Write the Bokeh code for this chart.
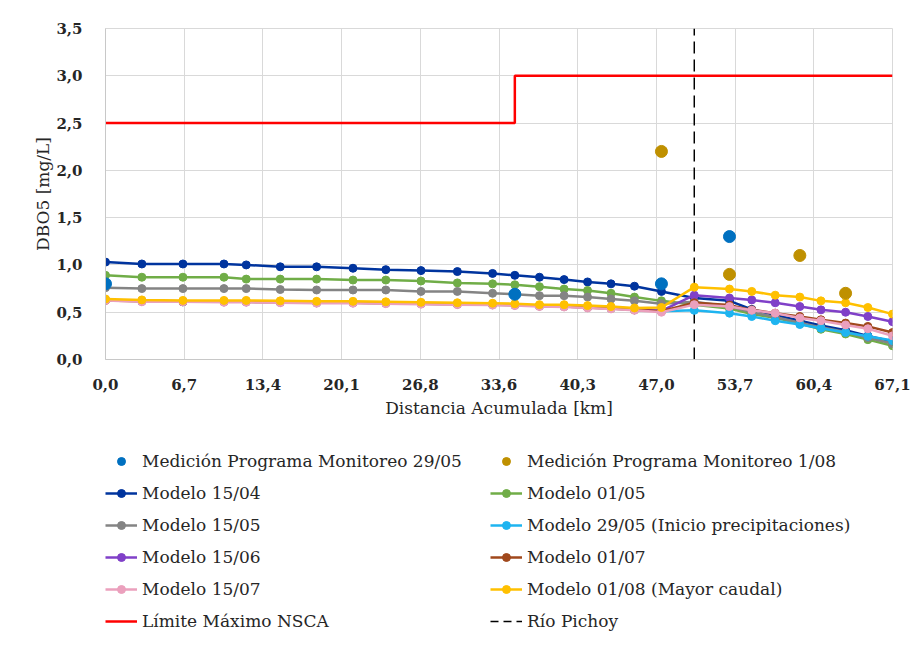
from bokeh.plotting import figure
from bokeh.layouts import column
from bokeh.models import Legend, LegendItem, FixedTicker, Range1d
from bokeh.embed import file_html
from bokeh.resources import INLINE

# ---------------- data ----------------
dist_km = [0.0, 3.1, 6.6, 10.1, 12.0, 14.9, 18.0, 21.1, 23.9, 26.9, 30.0, 33.0, 34.9, 37.0,
           39.1, 41.1, 43.1, 45.1, 47.4, 50.2, 53.2, 55.1, 57.1, 59.2, 61.0, 63.1, 65.0, 67.1]

modelo_1504 = [1.03, 1.01, 1.01, 1.01, 1.00, 0.98, 0.98, 0.965, 0.95, 0.94, 0.93, 0.91, 0.89, 0.87,
               0.845, 0.82, 0.80, 0.775, 0.72, 0.65, 0.62, 0.53, 0.47, 0.41, 0.36, 0.31, 0.25, 0.19]
modelo_0105 = [0.89, 0.87, 0.87, 0.87, 0.85, 0.85, 0.85, 0.84, 0.84, 0.83, 0.81, 0.80, 0.79, 0.77,
               0.745, 0.73, 0.70, 0.66, 0.62, 0.58, 0.54, 0.48, 0.44, 0.38, 0.32, 0.27, 0.21, 0.145]
modelo_1505 = [0.76, 0.75, 0.75, 0.75, 0.75, 0.74, 0.735, 0.735, 0.735, 0.72, 0.72, 0.70, 0.69, 0.675,
               0.675, 0.66, 0.64, 0.62, 0.59, 0.61, 0.56, 0.50, 0.45, 0.39, 0.34, 0.29, 0.23, 0.17]
modelo_2905 = [0.63, 0.615, 0.61, 0.61, 0.61, 0.605, 0.60, 0.60, 0.595, 0.59, 0.585, 0.58, 0.575, 0.565,
               0.56, 0.55, 0.54, 0.525, 0.51, 0.52, 0.49, 0.455, 0.41, 0.37, 0.33, 0.285, 0.245, 0.20]
modelo_1506 = [0.63, 0.62, 0.615, 0.615, 0.615, 0.61, 0.605, 0.605, 0.60, 0.595, 0.59, 0.585, 0.58, 0.57,
               0.565, 0.555, 0.545, 0.53, 0.515, 0.68, 0.65, 0.63, 0.60, 0.56, 0.525, 0.50, 0.455, 0.40]
modelo_0107 = [0.625, 0.615, 0.61, 0.61, 0.61, 0.605, 0.60, 0.60, 0.595, 0.59, 0.585, 0.58, 0.575, 0.565,
               0.56, 0.55, 0.54, 0.525, 0.51, 0.60, 0.575, 0.525, 0.49, 0.455, 0.42, 0.385, 0.35, 0.285]
modelo_1507 = [0.625, 0.61, 0.61, 0.605, 0.605, 0.60, 0.595, 0.595, 0.59, 0.585, 0.58, 0.575, 0.57, 0.56,
               0.555, 0.545, 0.535, 0.52, 0.50, 0.58, 0.56, 0.52, 0.49, 0.44, 0.41, 0.365, 0.325, 0.25]
modelo_0108 = [0.64, 0.63, 0.625, 0.625, 0.625, 0.62, 0.615, 0.615, 0.61, 0.605, 0.60, 0.595, 0.59, 0.58,
               0.58, 0.57, 0.56, 0.545, 0.55, 0.765, 0.745, 0.72, 0.68, 0.66, 0.62, 0.60, 0.55, 0.48]

med_2905_x = [0.0, 34.9, 47.4, 53.2]
med_2905_y = [0.80, 0.69, 0.80, 1.30]
med_0108_x = [47.4, 53.2, 59.2, 63.1]
med_0108_y = [2.20, 0.90, 1.10, 0.70]

limite_x = [0.0, 34.9, 34.9, 67.1]
limite_y = [2.5, 2.5, 3.0, 3.0]

pichoy_x = [50.2, 50.2]
pichoy_y = [0.0, 3.5]

x_ticks = [0.0, 6.71, 13.42, 20.13, 26.84, 33.55, 40.26, 46.97, 53.68, 60.39, 67.1]
x_tick_labels = ["0,0", "6,7", "13,4", "20,1", "26,8", "33,6", "40,3", "47,0", "53,7", "60,4", "67,1"]
y_ticks = [0.0, 0.5, 1.0, 1.5, 2.0, 2.5, 3.0, 3.5]
y_tick_labels = ["0,0", "0,5", "1,0", "1,5", "2,0", "2,5", "3,0", "3,5"]

# ---------------- styles ----------------
FONT = "DejaVu Serif"
TXT = "#262626"
GRID = "#d9d9d9"

models = [
    ("Modelo 15/04", modelo_1504, "#00349e"),
    ("Modelo 01/05", modelo_0105, "#70ad47"),
    ("Modelo 15/05", modelo_1505, "#848484"),
    ("Modelo 29/05 (Inicio precipitaciones)", modelo_2905, "#1eb4f0"),
    ("Modelo 15/06", modelo_1506, "#8040c8"),
    ("Modelo 01/07", modelo_0107, "#a0481c"),
    ("Modelo 15/07", modelo_1507, "#eba0bd"),
    ("Modelo 01/08 (Mayor caudal)", modelo_0108, "#ffc000"),
]
MED1_COLOR = "#0070c0"
MED2_COLOR = "#bf9000"
LIM_COLOR = "#ff0000"

# ---------------- chart ----------------
p = figure(frame_width=787, frame_height=331, output_backend="svg", toolbar_location=None,
           x_range=Range1d(0, 67.1), y_range=Range1d(0, 3.5),
           min_border_left=105, min_border_right=30, min_border_top=28, min_border_bottom=82)
p.background_fill_color = "white"
p.border_fill_color = "white"
p.outline_line_color = GRID

for ax in (p.xaxis[0], p.yaxis[0]):
    ax.major_tick_line_color = None
    ax.minor_tick_line_color = None
    ax.axis_line_color = "#c8c8c8"
    ax.major_label_text_font = FONT
    ax.major_label_text_font_style = "bold"
    ax.major_label_text_font_size = "15px"
    ax.major_label_text_color = TXT
    ax.axis_label_text_font = FONT
    ax.axis_label_text_font_style = "normal"
    ax.axis_label_text_font_size = "17px"
    ax.axis_label_text_color = TXT

p.xaxis.ticker = FixedTicker(ticks=x_ticks)
p.xaxis.major_label_overrides = {v: s for v, s in zip(x_ticks, x_tick_labels)}
p.yaxis.ticker = FixedTicker(ticks=y_ticks)
p.yaxis.major_label_overrides = {v: s for v, s in zip(y_ticks, y_tick_labels)}
p.xaxis.axis_label = "Distancia Acumulada [km]"
p.yaxis.axis_label = "DBO5 [mg/L]"
p.xaxis.major_label_standoff = 13
p.xaxis.axis_label_standoff = 5
p.yaxis.major_label_standoff = 17
p.yaxis.axis_label_standoff = 0

p.xgrid.ticker = FixedTicker(ticks=x_ticks)
p.ygrid.ticker = FixedTicker(ticks=y_ticks)
p.xgrid.grid_line_color = GRID
p.ygrid.grid_line_color = GRID

p.line(limite_x, limite_y, line_color=LIM_COLOR, line_width=2.5)
p.line(pichoy_x, pichoy_y, line_color="black", line_width=1.5, line_dash="12 6")
for name, vals, col in models:
    p.line(dist_km, vals, line_color=col, line_width=2.5)
    p.scatter(dist_km, vals, size=8, fill_color=col, line_color=col)
p.scatter(med_2905_x, med_2905_y, size=12, fill_color=MED1_COLOR, line_color=MED1_COLOR)
p.scatter(med_0108_x, med_0108_y, size=12, fill_color=MED2_COLOR, line_color=MED2_COLOR)

# ---------------- legend (separate strip under the chart) ----------------
q = figure(width=922, height=205, output_backend="svg", toolbar_location=None,
           x_range=Range1d(0, 1), y_range=Range1d(0, 1),
           x_axis_type=None, y_axis_type=None,
           min_border_left=0, min_border_right=0, min_border_top=0, min_border_bottom=0)
q.grid.visible = False
q.outline_line_color = None
q.background_fill_color = "white"
q.border_fill_color = "white"

# legend-only swatches (kept outside the visible range of this strip)
OFF_X = [5, 6]
OFF_Y = [5, 6]
leg = {}
leg["m1"] = [q.scatter(OFF_X, OFF_Y, size=10, fill_color=MED1_COLOR, line_color=MED1_COLOR)]
leg["m2"] = [q.scatter(OFF_X, OFF_Y, size=10, fill_color=MED2_COLOR, line_color=MED2_COLOR)]
for name, vals, col in models:
    leg[name] = [q.line(OFF_X, OFF_Y, line_color=col, line_width=2.5),
                 q.scatter(OFF_X, OFF_Y, size=7, fill_color=col, line_color=col)]
leg["lim"] = [q.line(OFF_X, OFF_Y, line_color=LIM_COLOR, line_width=2.5)]
leg["pichoy"] = [q.line(OFF_X, OFF_Y, line_color="black", line_width=1.5, line_dash="8 5")]

order = [
    ("Medición Programa Monitoreo 29/05", "m1"),
    ("Medición Programa Monitoreo 1/08", "m2"),
    ("Modelo 15/04", "Modelo 15/04"),
    ("Modelo 01/05", "Modelo 01/05"),
    ("Modelo 15/05", "Modelo 15/05"),
    ("Modelo 29/05 (Inicio precipitaciones)", "Modelo 29/05 (Inicio precipitaciones)"),
    ("Modelo 15/06", "Modelo 15/06"),
    ("Modelo 01/07", "Modelo 01/07"),
    ("Modelo 15/07", "Modelo 15/07"),
    ("Modelo 01/08 (Mayor caudal)", "Modelo 01/08 (Mayor caudal)"),
    ("Límite Máximo NSCA", "lim"),
    ("Río Pichoy", "pichoy"),
]
items = [LegendItem(label=lab, renderers=leg[key]) for lab, key in order]

lg = Legend(items=items, location=(0, 15), orientation="horizontal", ncols=2)
lg.label_text_font = FONT
lg.label_text_font_size = "17px"
lg.label_text_color = TXT
lg.glyph_width = 32
lg.glyph_height = 20
lg.label_height = 20
lg.label_width = 336
lg.spacing = 12
lg.padding = 0
lg.margin = 0
lg.label_standoff = 5
lg.border_line_color = None
lg.background_fill_alpha = 0
q.add_layout(lg)

layout = column(p, q, spacing=0)
open("out.html", "w").write(file_html(layout, INLINE))
